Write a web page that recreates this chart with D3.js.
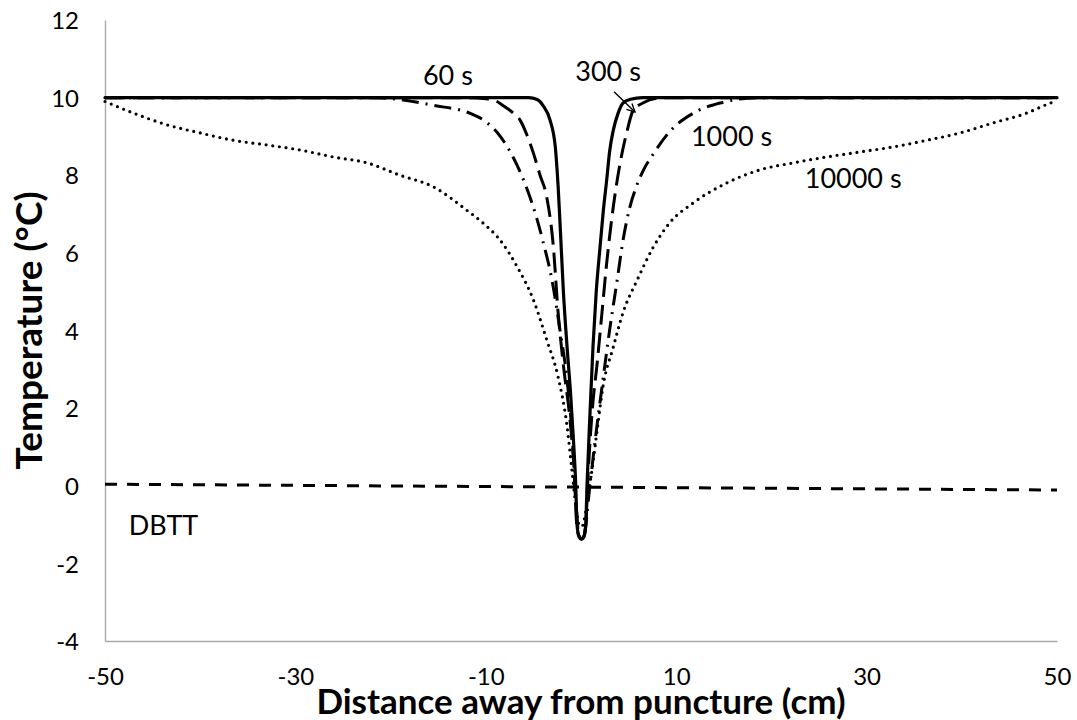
<html>
<head>
<script src="https://cdnjs.cloudflare.com/ajax/libs/d3/7.8.5/d3.min.js"></script>
<style>
  body { margin: 0; background: #fff; }
  text { font-family: Lato, "Open Sans", sans-serif; fill: #000; }
  .tick text { font-size: 24px; }
  .axis-title { font-weight: bold; }
  .note { font-size: 27px; }
</style>
</head>
<body>
<svg id="chart" width="1077" height="720"></svg>
<script>
// tick values
var xTicks = [-50, -30, -10, 10, 30, 50];
var yTicks = [-4, -2, 0, 2, 4, 6, 8, 10, 12];

// temperature profiles [distance cm, temperature C]
var t60 = [[-50,10],[-20,10],[-8,10],[-5.5,10],[-4.6,9.95],[-4,9.8],[-3.25,9.42],[-2.7,8.73],[-2.4,7.7],
  [-2.15,6.5],[-1.85,5.0],[-1.47,3.6],[-1.1,2.4],[-0.8,1.2],[-0.55,0],[-0.42,-1.0],[-0.2,-1.32],[0.05,-1.38],
  [0.3,-1.32],[0.5,-1.0],[0.63,0],[0.95,1.9],[1.26,3.58],[1.6,5.0],[2.0,6.15],[2.35,7.1],[2.7,7.88],[3.0,8.6],
  [3.4,9.17],[3.9,9.6],[4.4,9.86],[5.2,9.96],[6.5,10],[20,10],[50,10]];
var t300 = [[-50,10],[-12,10],[-10,9.97],[-9.2,9.94],[-8.2,9.8],[-7.2,9.62],[-6.4,9.42],[-5.7,9.05],[-5.0,8.57],
  [-4.3,8.0],[-3.6,7.44],[-2.9,6.15],[-2.4,4.45],[-1.8,3.0],[-1.2,1.8],[-0.7,0.3],[-0.45,-1.0],[-0.2,-1.3],
  [0.05,-1.36],[0.3,-1.3],[0.5,-1.0],[0.75,0.3],[1.2,2.0],[1.7,3.16],[2.2,4.45],[2.7,5.74],[3.4,7.2],[4.1,8.3],
  [4.8,9.1],[5.5,9.68],[6.5,9.86],[8.3,9.99],[10,10],[50,10]];
var t1000 = [[-50,10],[-22,10],[-18.7,9.94],[-15.5,9.8],[-11.7,9.6],[-10,9.38],[-8.8,9.1],[-7.1,8.45],[-5.6,7.6],
  [-4.6,6.85],[-4.0,6.3],[-3.05,5.3],[-2.2,4.0],[-1.5,2.8],[-0.9,1.2],[-0.5,-0.5],[-0.25,-1.25],[0.05,-1.36],
  [0.4,-1.2],[0.8,-0.3],[1.5,1.2],[2.3,2.72],[3.0,4.0],[3.8,5.3],[4.4,6.3],[5.1,7.15],[5.8,7.7],[6.6,8.15],
  [7.6,8.55],[9.3,9.12],[11.8,9.6],[14.6,9.86],[18.8,10],[22,10],[50,10]];
var t10000 = [[-50,9.9],[-47,9.6],[-43.5,9.3],[-40,9.09],[-36.5,8.9],[-33,8.78],[-29.5,8.65],[-26,8.47],
  [-22.5,8.32],[-19,8.0],[-15.5,7.7],[-12,7.1],[-10.3,6.77],[-8.5,6.33],[-6.7,5.64],[-5.0,4.79],[-3.6,3.76],
  [-2.4,2.8],[-1.5,1.6],[-0.95,0.4],[-0.5,-0.6],[-0.2,-1.0],[0.1,-1.05],[0.4,-0.8],[0.7,-0.3],[1.15,0.4],
  [1.7,1.44],[2.3,2.54],[3.4,3.58],[4.4,4.45],[5.9,5.3],[7.6,6.15],[9.3,6.77],[11.8,7.29],[15.3,7.8],[18.8,8.14],
  [22.3,8.32],[25.8,8.47],[29.3,8.6],[32.8,8.73],[36.3,8.9],[39.8,9.09],[43.3,9.35],[46.8,9.6],[49.3,9.86],[50,9.92]];
var dbtt = [[-50,0.04],[50,-0.11]];

// labels placed in data units: [text, x, y]
var notes = [["60 s",-16.6,10.33],["300 s",-0.6,10.42],["1000 s",11.55,8.75],["10000 s",23.5,7.68],["DBTT",-47.5,-1.28]];
var arrow300 = [[3.47,10.15],[5.67,9.63]];

var svg = d3.select("#chart");
var padL = 105, padR = 1057, padT = 20, padB = 641;

var x = d3.scaleLinear().domain([-50, 50]).range([padL, padR]);
var y = d3.scaleLinear().domain([-4, 12]).range([padB, padT]);

// axes, no tick marks, grey lines
var xAxis = svg.append("g").attr("transform", "translate(0," + padB + ")")
  .call(d3.axisBottom(x).tickValues(xTicks).tickSize(0).tickPadding(0).tickFormat(d => String(d)));
xAxis.select(".domain").attr("stroke", "#a9a9a9").attr("stroke-width", 1.4);
xAxis.selectAll(".tick text").attr("dy", null).attr("y", 44);

var yAxis = svg.append("g").attr("transform", "translate(" + padL + ",0)")
  .call(d3.axisLeft(y).tickValues(yTicks).tickSize(0).tickPadding(0).tickFormat(d => String(d)));
yAxis.select(".domain").attr("stroke", "#a9a9a9").attr("stroke-width", 1.4);
yAxis.selectAll(".tick text").attr("x", -26).attr("dy", "0.36em");

var line = d3.line().x(d => x(d[0])).y(d => y(d[1])).curve(d3.curveMonotoneX);

var series = [
  {data: dbtt,   dash: "12,10",        w: 3},
  {data: t10000, dash: "0,6.7",        w: 3.2, cap: "round"},
  {data: t1000,  dash: "17,7,2,7",     w: 3},
  {data: t300,   dash: "20,8",         w: 3},
  {data: t60,    dash: null,           w: 3.2, cap: "round"}
];

svg.selectAll("path.series")
  .data(series)
  .enter()
  .append("path")
  .attr("class", "series")
  .attr("d", d => line(d.data))
  .attr("fill", "none")
  .attr("stroke", "#000")
  .attr("stroke-width", d => d.w)
  .attr("stroke-dasharray", d => d.dash)
  .attr("stroke-linecap", d => d.cap || "butt");

// arrow for the 300 s label
svg.append("defs").append("marker")
  .attr("id", "head").attr("viewBox", "0 0 10 10").attr("refX", 9).attr("refY", 5)
  .attr("markerWidth", 10).attr("markerHeight", 10).attr("markerUnits", "userSpaceOnUse")
  .attr("orient", "auto")
  .append("path").attr("d", "M1,1 L9,5 L1,9").attr("fill", "none").attr("stroke", "#000").attr("stroke-width", 1.4);
svg.append("line")
  .attr("x1", x(arrow300[0][0])).attr("y1", y(arrow300[0][1]))
  .attr("x2", x(arrow300[1][0])).attr("y2", y(arrow300[1][1]))
  .attr("stroke", "#000").attr("stroke-width", 1.4).attr("marker-end", "url(#head)");

svg.selectAll("text.note")
  .data(notes)
  .enter()
  .append("text")
  .attr("class", "note")
  .attr("x", d => x(d[1]))
  .attr("y", d => y(d[2]))
  .text(d => d[0]);

svg.append("text").attr("class", "axis-title")
  .attr("x", (padL + padR) / 2).attr("y", 714).attr("text-anchor", "middle")
  .style("font-size", "35px")
  .text("Distance away from puncture (cm)");
svg.append("text").attr("class", "axis-title")
  .attr("transform", "translate(42," + (padT + padB) / 2 + ") rotate(-90)")
  .attr("text-anchor", "middle")
  .style("font-size", "37px")
  .text("Temperature (°C)");
</script>
</body>
</html>
